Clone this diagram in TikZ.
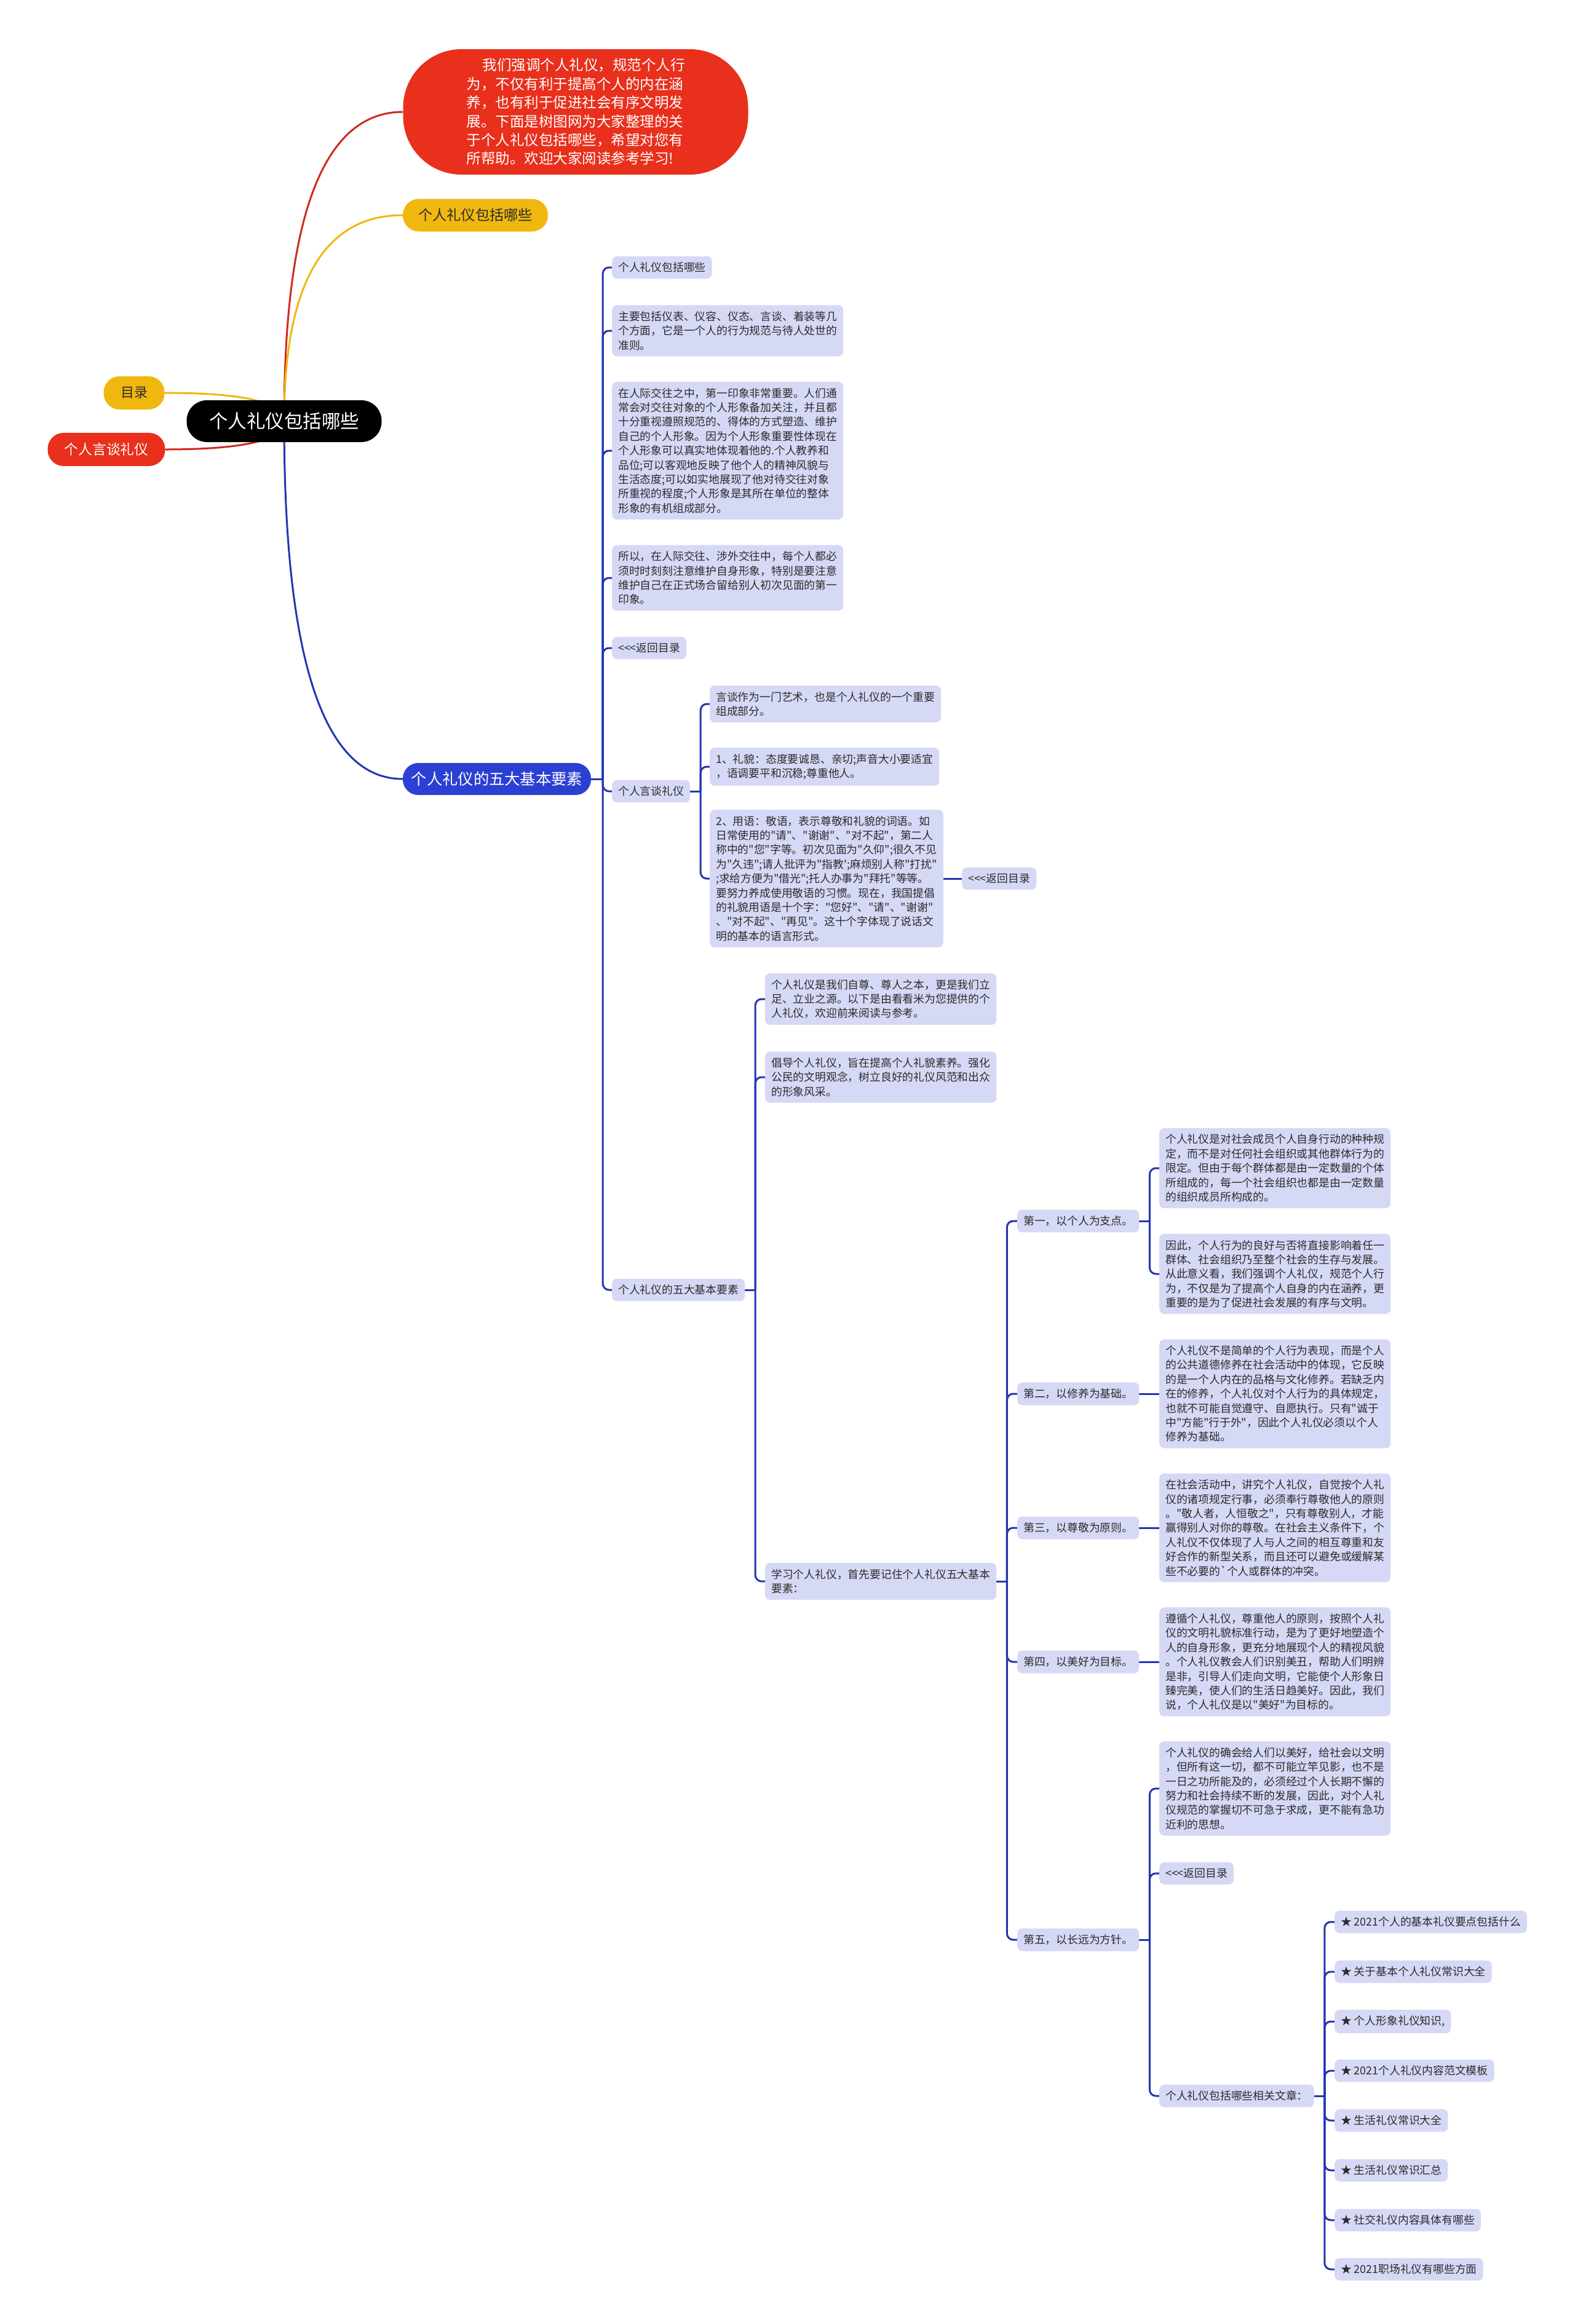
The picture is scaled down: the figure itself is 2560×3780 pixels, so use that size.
\documentclass[tikz,border=0pt]{standalone}
\usepackage{fontspec}
\usepackage{tikz}
\usetikzlibrary{calc,backgrounds}
\newfontfamily\cjkfont{Noto Sans CJK SC}

\definecolor{lilac}{HTML}{D5D9F6}
\definecolor{navy}{HTML}{2236B0}
\definecolor{royal}{HTML}{2B40D2}
\definecolor{tomato}{HTML}{E8301C}
\definecolor{redline}{HTML}{D02A1E}
\definecolor{gold}{HTML}{F0B80F}
\definecolor{ink}{HTML}{2B2B2B}

\tikzset{
  topic/.style={fill=lilac, text=ink, rounded corners=8pt, inner xsep=10pt, inner ysep=10pt,
    align=left, anchor=west, font=\cjkfont\fontsize{17.8}{23.4}\selectfont},
  pill/.style={fill=#1, inner sep=0pt, align=center},
  link/.style={line width=3pt, navy, rounded corners=10pt},
  branch/.style={line width=3pt, to path={.. controls ($(\tikztostart)!0.667!(\tikztostart|-\tikztotarget)$)
    and ($(\tikztotarget)!0.667!(\tikztostart|-\tikztotarget)$) .. (\tikztotarget)}},
}

\begin{document}
\begin{tikzpicture}[x=1pt, y=-1pt]
  \useasboundingbox (0,0) rectangle (2560,3780);

  % centre and first ring
  \node[pill=black, text=white, minimum width=317pt, minimum height=68pt, rounded corners=33pt,
    font=\cjkfont\fontsize{30.5}{36}\selectfont] (root) at (462,685) {个人礼仪包括哪些};
  \node[pill=gold, text=ink, minimum width=99pt, minimum height=54pt, rounded corners=26pt,
    font=\cjkfont\fontsize{22}{26}\selectfont] (toc) at (218,639) {目录};
  \node[pill=tomato, text=white, minimum width=191pt, minimum height=54pt, rounded corners=26pt,
    font=\cjkfont\fontsize{22.8}{27}\selectfont] (talkL) at (173,731) {个人言谈礼仪};
  \node[pill=tomato, text=white, minimum width=561pt, minimum height=204pt, rounded corners=95pt,
    align=left, font=\cjkfont\fontsize{23.5}{30.4}\selectfont] (intro) at (936,182)
    {\hspace*{26pt}我们强调个人礼仪，规范个人行\\为，不仅有利于提高个人的内在涵\\养，也有利于促进社会有序文明发\\展。下面是树图网为大家整理的关\\于个人礼仪包括哪些，希望对您有\\所帮助。欢迎大家阅读参考学习!};
  \node[pill=gold, text=ink, minimum width=236pt, minimum height=53pt, rounded corners=26pt,
    font=\cjkfont\fontsize{23.2}{27}\selectfont] (incl) at (773,350) {个人礼仪包括哪些};
  \node[pill=royal, text=white, minimum width=306pt, minimum height=52pt, rounded corners=25pt,
    font=\cjkfont\fontsize{25.3}{30}\selectfont] (five) at (808,1267) {个人礼仪的五大基本要素};

  % second ring
  \node[topic] (f1) at (995,435) {个人礼仪包括哪些};
  \node[topic] (f2) at (995,538) {主要包括仪表、仪容、仪态、言谈、着装等几\\个方面，它是一个人的行为规范与待人处世的\\准则。};
  \node[topic] (f3) at (995,733) {在人际交往之中，第一印象非常重要。人们通\\常会对交往对象的个人形象备加关注，并且都\\十分重视遵照规范的、得体的方式塑造、维护\\自己的个人形象。因为个人形象重要性体现在\\个人形象可以真实地体现着他的.个人教养和\\品位;可以客观地反映了他个人的精神风貌与\\生活态度;可以如实地展现了他对待交往对象\\所重视的程度;个人形象是其所在单位的整体\\形象的有机组成部分。};
  \node[topic] (f4) at (995,940) {所以，在人际交往、涉外交往中，每个人都必\\须时时刻刻注意维护自身形象，特别是要注意\\维护自己在正式场合留给别人初次见面的第一\\印象。};
  \node[topic] (f5) at (995,1054) {<<<返回目录};
  \node[topic] (f6) at (995,1287) {个人言谈礼仪};
  \node[topic] (f7) at (995,2098) {个人礼仪的五大基本要素};

  % talk branch
  \node[topic] (t1) at (1154,1145) {言谈作为一门艺术，也是个人礼仪的一个重要\\组成部分。};
  \node[topic] (t2) at (1154,1247) {1、礼貌：态度要诚恳、亲切;声音大小要适宜\\，语调要平和沉稳;尊重他人。};
  \node[topic] (t3) at (1154,1429) {2、用语：敬语，表示尊敬和礼貌的词语。如\\日常使用的"请"、"谢谢"、"对不起"，第二人\\称中的"您"字等。初次见面为"久仰";很久不见\\为"久违";请人批评为"指教';麻烦别人称"打扰"\\;求给方便为"借光";托人办事为"拜托"等等。\\要努力养成使用敬语的习惯。现在，我国提倡\\的礼貌用语是十个字："您好"、"请"、"谢谢"\\、"对不起"、"再见"。这十个字体现了说话文\\明的基本的语言形式。};
  \node[topic] (tback) at (1564,1429) {<<<返回目录};

  % five elements branch
  \node[topic] (e1) at (1244,1625) {个人礼仪是我们自尊、尊人之本，更是我们立\\足、立业之源。以下是由看看米为您提供的个\\人礼仪，欢迎前来阅读与参考。};
  \node[topic] (e2) at (1244,1752) {倡导个人礼仪，旨在提高个人礼貌素养。强化\\公民的文明观念，树立良好的礼仪风范和出众\\的形象风采。};
  \node[topic] (learn) at (1244,2572) {学习个人礼仪，首先要记住个人礼仪五大基本\\要素：};

  \node[topic] (p1) at (1654,1986) {第一，以个人为支点。};
  \node[topic] (p2) at (1654,2267) {第二，以修养为基础。};
  \node[topic] (p3) at (1654,2485) {第三，以尊敬为原则。};
  \node[topic] (p4) at (1654,2703) {第四，以美好为目标。};
  \node[topic] (p5) at (1654,3155) {第五，以长远为方针。};

  \node[topic] (p1a) at (1885,1900) {个人礼仪是对社会成员个人自身行动的种种规\\定，而不是对任何社会组织或其他群体行为的\\限定。但由于每个群体都是由一定数量的个体\\所组成的，每一个社会组织也都是由一定数量\\的组织成员所构成的。};
  \node[topic] (p1b) at (1885,2072) {因此，个人行为的良好与否将直接影响着任一\\群体、社会组织乃至整个社会的生存与发展。\\从此意义看，我们强调个人礼仪，规范个人行\\为，不仅是为了提高个人自身的内在涵养，更\\重要的是为了促进社会发展的有序与文明。};
  \node[topic] (p2a) at (1885,2267) {个人礼仪不是简单的个人行为表现，而是个人\\的公共道德修养在社会活动中的体现，它反映\\的是一个人内在的品格与文化修养。若缺乏内\\在的修养，个人礼仪对个人行为的具体规定，\\也就不可能自觉遵守、自愿执行。只有"诚于\\中"方能"行于外"，因此个人礼仪必须以个人\\修养为基础。};
  \node[topic] (p3a) at (1885,2485) {在社会活动中，讲究个人礼仪，自觉按个人礼\\仪的诸项规定行事，必须奉行尊敬他人的原则\\。"敬人者，人恒敬之"，只有尊敬别人，才能\\赢得别人对你的尊敬。在社会主义条件下，个\\人礼仪不仅体现了人与人之间的相互尊重和友\\好合作的新型关系，而且还可以避免或缓解某\\些不必要的`个人或群体的冲突。};
  \node[topic] (p4a) at (1885,2703) {遵循个人礼仪，尊重他人的原则，按照个人礼\\仪的文明礼貌标准行动，是为了更好地塑造个\\人的自身形象，更充分地展现个人的精视风貌\\。个人礼仪教会人们识别美丑，帮助人们明辨\\是非，引导人们走向文明，它能使个人形象日\\臻完美，使人们的生活日趋美好。因此，我们\\说，个人礼仪是以"美好"为目标的。};
  \node[topic] (p5a) at (1885,2909) {个人礼仪的确会给人们以美好，给社会以文明\\，但所有这一切，都不可能立竿见影，也不是\\一日之功所能及的，必须经过个人长期不懈的\\努力和社会持续不断的发展，因此，对个人礼\\仪规范的掌握切不可急于求成，更不能有急功\\近利的思想。};
  \node[topic] (p5back) at (1885,3047) {<<<返回目录};
  \node[topic] (rel) at (1885,3409) {个人礼仪包括哪些相关文章：};

  % related articles
  \foreach \i/\y/\t in {1/3126/{2021个人的基本礼仪要点包括什么}, 2/3207/{关于基本个人礼仪常识大全},
      3/3288/{个人形象礼仪知识,}, 4/3368/{2021个人礼仪内容范文模板}, 5/3449/{生活礼仪常识大全},
      6/3530/{生活礼仪常识汇总}, 7/3611/{社交礼仪内容具体有哪些}, 8/3691/{2021职场礼仪有哪些方面}}
    \node[topic] (s\i) at (2170,\y) {★ \t};

  \begin{scope}[on background layer]
    \fill[white] (0,0) rectangle (2560,3780);
    % curves out of the centre
    \draw[branch, redline] (root.center) to (intro.west);
    \draw[branch, gold] (root.center) to (incl.west);
    \draw[branch, gold] (root.center) to (toc.east);
    \draw[branch, redline] (root.center) to (talkL.east);
    \draw[branch, navy] (root.center) to (five.west);

    % elbows
    \coordinate (fivebar) at ($(five.east)+(19,0)$);
    \draw[link] (five.east) -- (fivebar);
    \foreach \c in {f1,f2,f3,f4,f5,f6,f7}
      \draw[link] (fivebar) |- (\c.west);

    \coordinate (talkbar) at ($(f6.east)+(17,0)$);
    \draw[link] (f6.east) -- (talkbar);
    \foreach \c in {t1,t2,t3}
      \draw[link] (talkbar) |- (\c.west);
    \draw[link] (t3.east) -- (tback.west);

    \coordinate (elembar) at ($(f7.east)+(17,0)$);
    \draw[link] (f7.east) -- (elembar);
    \foreach \c in {e1,e2,learn}
      \draw[link] (elembar) |- (\c.west);

    \coordinate (learnbar) at ($(learn.east)+(17,0)$);
    \draw[link] (learn.east) -- (learnbar);
    \foreach \c in {p1,p2,p3,p4,p5}
      \draw[link] (learnbar) |- (\c.west);

    \coordinate (onebar) at ($(p1.east)+(17,0)$);
    \draw[link] (p1.east) -- (onebar);
    \foreach \c in {p1a,p1b}
      \draw[link] (onebar) |- (\c.west);
    \draw[link] (p2.east) -- (p2a.west);
    \draw[link] (p3.east) -- (p3a.west);
    \draw[link] (p4.east) -- (p4a.west);

    \coordinate (fivthbar) at ($(p5.east)+(17,0)$);
    \draw[link] (p5.east) -- (fivthbar);
    \foreach \c in {p5a,p5back,rel}
      \draw[link] (fivthbar) |- (\c.west);

    \coordinate (relbar) at ($(rel.east)+(17,0)$);
    \draw[link] (rel.east) -- (relbar);
    \foreach \i in {1,...,8}
      \draw[link] (relbar) |- (s\i.west);
  \end{scope}
\end{tikzpicture}
\end{document}
